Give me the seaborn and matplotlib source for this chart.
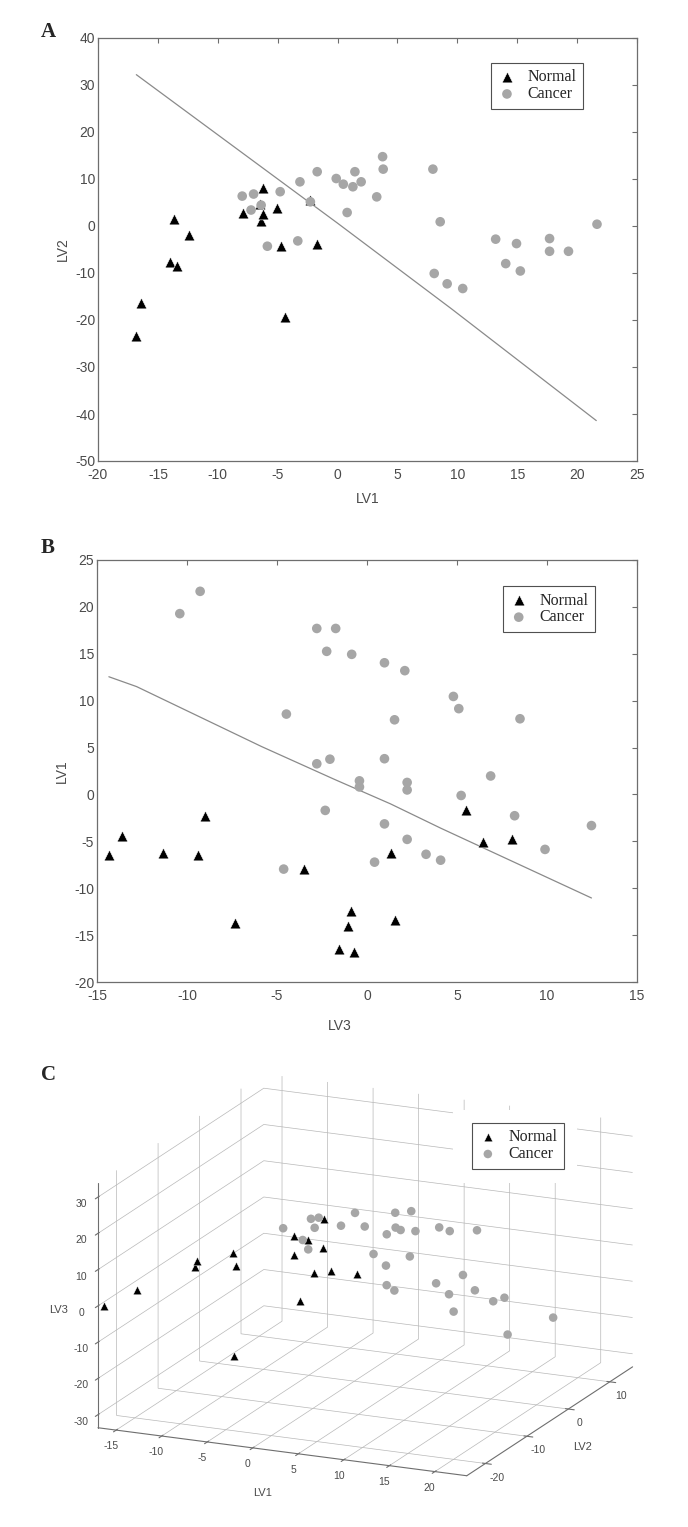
import numpy as np
import pandas as pd
import matplotlib
matplotlib.use("Agg")
import matplotlib.pyplot as plt
import matplotlib.patches as mpatches
import seaborn as sns

# latent variable scores (LV1 shared by panels A and B)
normal_lv1 = [-16.81, -16.44, -14.01, -13.68, -13.37, -12.40, -7.92, -6.50,
              -6.42, -6.22, -6.22, -5.08, -4.72, -4.38, -2.27, -1.70]
normal_lv2 = [-23.5, -16.4, -7.65, 1.4, -8.6, -2.0, 2.87, 4.65,
              1.0, 8.0, 2.45, 3.87, -4.24, -19.4, 5.6, -3.74]
normal_lv3 = [-0.74, -1.57, -1.04, -7.35, 1.53, -0.91, -3.48, -9.38,
              -14.34, -11.32, 1.34, 6.45, 8.05, -13.61, -9.01, 5.48]

cancer_lv1 = [-7.96, -7.22, -7.01, -6.38, -5.86, -4.79, -3.32, -3.14,
              -2.27, -1.70, -0.11, 0.48, 0.80, 1.28, 1.45, 1.97,
              3.27, 3.76, 3.81, 7.96, 8.07, 8.57, 9.15, 10.45,
              13.20, 14.04, 14.94, 15.26, 17.70, 17.70, 19.28, 21.66]
cancer_lv2 = [6.36, 3.4, 6.8, 4.44, -4.3, 7.3, -3.17, 9.4,
              5.15, 11.55, 10.1, 8.9, 2.87, 8.35, 11.55, 9.4,
              6.2, 14.75, 12.1, 12.1, -10.1, 0.9, -12.3, -13.3,
              -2.8, -8.0, -3.74, -9.57, -2.67, -5.38, -5.38, 0.38]
cancer_lv3 = [-4.63, 0.42, 4.09, 3.28, 9.89, 2.23, 12.47, 0.97,
              8.2, -2.32, 5.23, 2.23, -0.42, 2.23, -0.42, 6.87,
              -2.79, -2.06, 0.97, 1.53, 8.5, -4.48, 5.1, 4.8,
              2.1, 0.97, -0.85, -2.24, -2.79, -1.74, -10.4, -9.27]

# discriminant lines
lineA_x = [-16.8, 0.0, 9.5, 21.6]
lineA_y = [32.2, 0.6, -17.6, -41.4]
lineB_x = [-14.34, -12.8, -5.85, -1.8, 1.3, 4.1, 12.47]
lineB_y = [12.55, 11.5, 5.1, 1.6, -1.0, -3.6, -11.04]

normal = pd.DataFrame({"LV1": normal_lv1, "LV2": normal_lv2, "LV3": normal_lv3})
cancer = pd.DataFrame({"LV1": cancer_lv1, "LV2": cancer_lv2, "LV3": cancer_lv3})

sns.set_style("white")
plt.rcParams["font.family"] = ["Liberation Sans", "DejaVu Sans"]
plt.rcParams["axes.unicode_minus"] = False
plt.rcParams["grid.color"] = "#b8b8b8"
plt.rcParams["grid.linewidth"] = 0.5

GREY = "#a6a6a6"
AXC = "#6e6e6e"
TXT = "#4a4a4a"
serif = ["Liberation Serif", "DejaVu Serif"]
leg_kw = dict(frameon=True, fancybox=False, framealpha=1, edgecolor="#505050",
              prop={"family": serif, "size": 11.5}, handlelength=1.2,
              handletextpad=0.7, labelspacing=0.05, borderpad=0.4,
              borderaxespad=0)

fig = plt.figure(figsize=(6.88, 15.27), dpi=100)
W, H = 688, 1527


def style2d(ax, xlim, ylim, xticks, yticks, xlabel, ylabel):
    ax.set_xlim(xlim)
    ax.set_ylim(ylim)
    ax.set_xticks(xticks)
    ax.set_yticks(yticks)
    ax.set_xlabel(xlabel, fontsize=10, color=TXT, labelpad=7)
    ax.set_ylabel(ylabel, fontsize=10, color=TXT)
    for sp in ax.spines.values():
        sp.set_visible(True)
        sp.set_color(AXC)
        sp.set_linewidth(0.9)
    ax.tick_params(direction="in", length=3.5, width=0.8, color=AXC,
                   top=True, right=True, labelsize=10, labelcolor=TXT)
    ax.tick_params(axis="x", pad=5)
    ax.tick_params(axis="y", pad=2)


# ---- panel A: LV1 vs LV2
axA = fig.add_axes([98 / W, 1 - 461 / H, 539 / W, 423 / H])
sns.lineplot(x=lineA_x, y=lineA_y, ax=axA, color="#8a8a8a", lw=0.9,
             estimator=None, sort=False)
sns.scatterplot(data=normal, x="LV1", y="LV2", ax=axA, marker="^", color="black",
                s=60, edgecolor="white", linewidth=0.4, label="Normal", zorder=3)
sns.scatterplot(data=cancer, x="LV1", y="LV2", ax=axA, marker="o", color=GREY,
                s=48, edgecolor="none", label="Cancer", zorder=3)
style2d(axA, (-20, 25), (-50, 40), range(-20, 26, 5), range(-50, 41, 10), "LV1", "LV2")
legA = axA.legend(loc="upper right", bbox_to_anchor=(0.90, 0.941), **leg_kw)
legA.get_frame().set_linewidth(0.8)

# ---- panel B: LV3 vs LV1
axB = fig.add_axes([97 / W, 1 - 982 / H, 540 / W, 422 / H])
sns.lineplot(x=lineB_x, y=lineB_y, ax=axB, color="#8a8a8a", lw=0.9,
             estimator=None, sort=False)
sns.scatterplot(data=normal, x="LV3", y="LV1", ax=axB, marker="^", color="black",
                s=60, edgecolor="white", linewidth=0.4, label="Normal", zorder=3)
sns.scatterplot(data=cancer, x="LV3", y="LV1", ax=axB, marker="o", color=GREY,
                s=48, edgecolor="none", label="Cancer", zorder=3)
style2d(axB, (-15, 15), (-20, 25), range(-15, 16, 5), range(-20, 26, 5), "LV3", "LV1")
axB.xaxis.set_label_coords((340 - 97) / 540, -0.087)
legB = axB.legend(loc="upper right", bbox_to_anchor=(0.922, 0.938), **leg_kw)
legB.get_frame().set_linewidth(0.8)

# ---- panel C: 3D view (square active area wide enough so no marker is clipped)
axC = fig.add_axes([12 / W, 1 - 1627.5 / H, 688 / W, 687 / H],
                   projection="3d", proj_type="ortho")
axC.set_facecolor("none")
axC.scatter(normal["LV1"], normal["LV2"], normal["LV3"], marker="^", c="black",
            s=38, edgecolors="white", linewidths=0.3, depthshade=False, label="Normal")
axC.scatter(cancer["LV1"], cancer["LV2"], cancer["LV3"], marker="o", c=GREY,
            s=38, edgecolors="none", depthshade=False, label="Cancer")
axC.set_xlim(-17, 23.5)
axC.set_ylim(-24.5, 15.5)
axC.set_zlim(-33.6, 34)
axC.set_xticks(range(-15, 21, 5))
axC.set_yticks(range(-20, 11, 10))
axC.set_zticks(range(-30, 31, 10))
axC.view_init(elev=17, azim=-66)
axC.set_box_aspect((1, 1.01, 0.635), zoom=0.888)
for a in (axC.xaxis, axC.yaxis, axC.zaxis):
    a.set_pane_color((1, 1, 1, 0))
    a.line.set_color(AXC)
    a.line.set_linewidth(0.8)
axC.zaxis.set_ticks_position("lower")
axC.zaxis.set_label_position("lower")
axC.tick_params(labelsize=7.5, labelcolor=TXT, colors=AXC, pad=0)
axC.set_xlabel("LV1", fontsize=8, color=TXT, labelpad=9)
axC.set_ylabel("LV2", fontsize=8, color=TXT, labelpad=2)
axC.set_zlabel("LV3", fontsize=8, color=TXT, labelpad=-2)
axC.grid(True)

# white area cleared around the legend, as in the original
fig.patches.append(mpatches.Rectangle((453 / W, 1 - 1183 / H), 124 / W, 73 / H,
                                      transform=fig.transFigure, facecolor="white",
                                      edgecolor="none", zorder=1))
h, l = axC.get_legend_handles_labels()
legC = fig.legend(h, l, loc="upper right", bbox_to_anchor=(564 / W, 1 - 1123 / H),
                  **leg_kw)
legC.get_frame().set_linewidth(0.8)
legC.set_zorder(5)

# panel letters
for letter, y in (("A", 32), ("B", 548), ("C", 1075)):
    fig.text(48 / W, 1 - y / H, letter, ha="center", va="center",
             family=serif, fontweight="bold", fontsize=15)

fig.savefig("out.png", dpi=100, facecolor="white")
